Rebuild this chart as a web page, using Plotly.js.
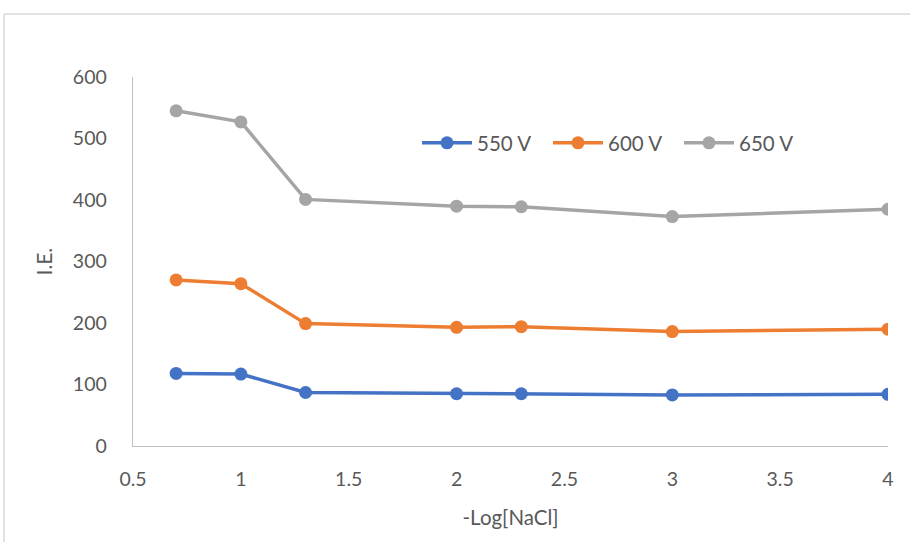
<!DOCTYPE html>
<html>
<head>
<meta charset="utf-8">
<script src="https://cdn.plot.ly/plotly-3.0.1.min.js"></script>
<style>
html,body{margin:0;padding:0;background:#fff;}
#chart{width:910px;height:542px;}
</style>
</head>
<body>
<div id="chart"></div>
<script>
const xValues = [0.7, 1, 1.3, 2, 2.3, 3, 4];
const v550 = [118, 117, 87, 85, 85, 83, 84];
const v600 = [270, 264, 199, 193, 194, 186, 190];
const v650 = [545, 527, 401, 390, 389, 373, 385];
const seriesNames = ["550 V", "600 V", "650 V"];
const colors = ["#4472C4", "#ED7D31", "#A5A5A5"];
const xTicks = [0.5, 1, 1.5, 2, 2.5, 3, 3.5, 4];
const yTicks = [0, 100, 200, 300, 400, 500, 600];

const font = "Lato, 'Open Sans', sans-serif";
const textColor = "#595959";

const traces = [v550, v600, v650].map((ys, i) => ({
  x: xValues, y: ys, name: seriesNames[i], type: "scatter", mode: "lines+markers",
  line: {color: colors[i], width: 3.5},
  marker: {color: colors[i], size: 13}
}));

const L = 133, R = 22, T = 77, B = 96, W = 910, H = 542;
const pw = W - L - R, ph = H - T - B;
const px = v => (v - L) / pw;
const py = v => (H - B - v) / ph;

const layout = {
  width: W, height: H,
  margin: {l: L, r: R, t: T, b: B, pad: 0},
  paper_bgcolor: "rgba(0,0,0,0)", plot_bgcolor: "rgba(0,0,0,0)",
  font: {family: font, size: 19, color: textColor},
  showlegend: true,
  legend: {orientation: "h", x: px(417), xanchor: "left", y: py(143), yanchor: "middle",
    entrywidth: 66, entrywidthmode: "pixels",
    font: {family: font, size: 20.5, color: textColor}, bgcolor: "rgba(0,0,0,0)", itemwidth: 50, traceorder: "normal"},
  xaxis: {range: [0.5, 4], tickvals: xTicks, ticktext: xTicks.map(String), showgrid: false, zeroline: false,
    showline: true, linecolor: "#BFBFBF", linewidth: 1.3, ticks: "", ticklabelstandoff: 15,
    tickfont: {family: font, size: 19.5, color: textColor},
    title: {text: "-Log[NaCl]", font: {family: font, size: 20.5, color: textColor}, standoff: 22}},
  yaxis: {range: [0, 600], tickvals: yTicks, showgrid: false, zeroline: false,
    showline: true, linecolor: "#BFBFBF", linewidth: 1.3, ticks: "", ticklabelstandoff: 21,
    tickfont: {family: font, size: 19.5, color: textColor},
    title: {text: "I.E.", font: {family: font, size: 20.5, color: textColor}, standoff: 14}},
  shapes: [
    {type: "line", xref: "paper", yref: "paper", x0: px(4), x1: px(910), y0: py(14), y1: py(14), line: {color: "#D9D9D9", width: 1.5}},
    {type: "line", xref: "paper", yref: "paper", x0: px(4), x1: px(4), y0: py(14), y1: py(542), line: {color: "#D9D9D9", width: 1.5}}
  ]
};

Plotly.newPlot("chart", traces, layout, {displayModeBar: false, staticPlot: true});
</script>
</body>
</html>
